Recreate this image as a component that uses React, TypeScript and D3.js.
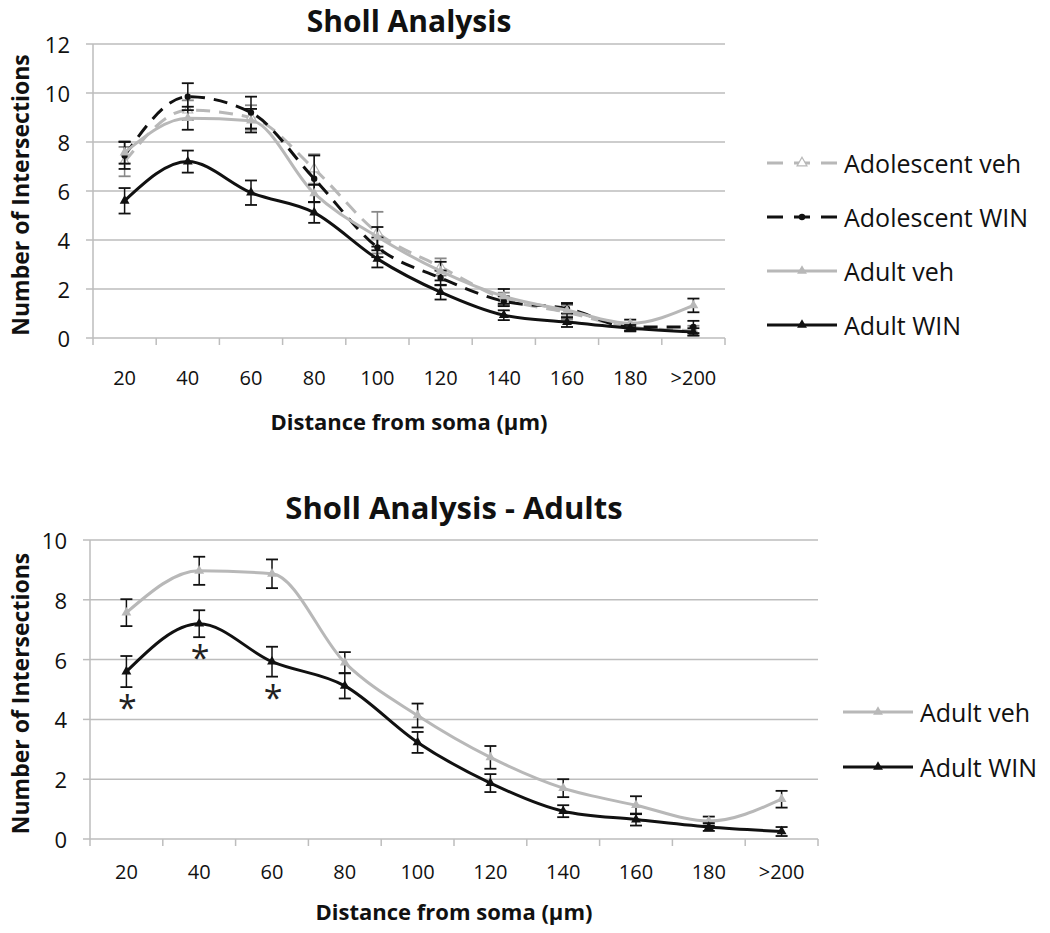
import React from "react";
import * as d3 from "d3";

const categories = ["20", "40", "60", "80", "100", "120", "140", "160", "180", ">200"];

const adolVeh = [7.2, 9.3, 9.0, 6.9, 4.3, 2.9, 1.6, 1.05, 0.45, 0.3];
const adolVehErr = [0.6, 0.4, 0.5, 0.6, 0.85, 0.35, 0.25, 0.3, 0.15, 0.2];
const adolWin = [7.45, 9.85, 9.2, 6.5, 3.7, 2.45, 1.5, 1.2, 0.45, 0.45];
const adolWinErr = [0.55, 0.55, 0.65, 0.95, 0.4, 0.3, 0.2, 0.2, 0.15, 0.25];
const adultVeh = [7.57, 8.97, 8.87, 5.9, 4.13, 2.73, 1.7, 1.13, 0.6, 1.33];
const adultVehErr = [0.45, 0.47, 0.48, 0.35, 0.4, 0.38, 0.3, 0.3, 0.15, 0.28];
const adultWin = [5.6, 7.2, 5.93, 5.12, 3.23, 1.87, 0.93, 0.65, 0.4, 0.25];
const adultWinErr = [0.52, 0.45, 0.5, 0.42, 0.35, 0.3, 0.2, 0.2, 0.13, 0.15];

const topTicks = [0, 2, 4, 6, 8, 10, 12];
const bottomTicks = [0, 2, 4, 6, 8, 10];
const significant = ["20", "40", "60"];

const GRAY = "#b8b8b8";
const GRID = "#bdbdbd";
const FONT = "'Open Sans', Lato, sans-serif";

type Series = {
  name: string;
  values: number[];
  errs: number[];
  color: string;
  dash?: string;
  marker: "tri" | "triOpen" | "circle";
};

const topSeries: Series[] = [
  { name: "Adolescent veh", values: adolVeh, errs: adolVehErr, color: GRAY, dash: "14,9", marker: "triOpen" },
  { name: "Adolescent WIN", values: adolWin, errs: adolWinErr, color: "#111", dash: "14,9", marker: "circle" },
  { name: "Adult veh", values: adultVeh, errs: adultVehErr, color: GRAY, marker: "tri" },
  { name: "Adult WIN", values: adultWin, errs: adultWinErr, color: "#111", marker: "tri" },
];
const bottomSeries: Series[] = [
  { name: "Adult veh", values: adultVeh, errs: adultVehErr, color: GRAY, marker: "tri" },
  { name: "Adult WIN", values: adultWin, errs: adultWinErr, color: "#111", marker: "tri" },
];

function Marker({ s, x, y }: { s: Series; x: number; y: number }) {
  if (s.marker === "circle") {
    const p = d3.symbol().type(d3.symbolCircle).size(32)();
    return <path d={p || ""} transform={`translate(${x},${y})`} fill={s.color} />;
  }
  const p = d3.symbol().type(d3.symbolTriangle).size(42)();
  if (s.marker === "triOpen") {
    return <path d={p || ""} transform={`translate(${x},${y})`} fill="#fff" stroke={s.color} strokeWidth={1.2} />;
  }
  return <path d={p || ""} transform={`translate(${x},${y})`} fill={s.color} />;
}

function Chart(props: {
  title: string;
  titleBase: number;
  titleSize: number;
  left: number;
  right: number;
  top: number;
  bottom: number;
  ymax: number;
  ticks: number[];
  series: Series[];
  xLabelY: number;
  xTitleY: number;
  yTitleX: number;
  legendX: number;
  legendY: number[];
  stars?: boolean;
}) {
  const { left, right, top, bottom } = props;
  const x = d3.scaleBand().domain(categories).range([left, right]);
  const bw = x.bandwidth();
  const cx = (c: string) => (x(c) as number) + bw / 2;
  const y = d3.scaleLinear().domain([0, props.ymax]).range([bottom, top]);
  const line = d3
    .line<number>()
    .x((_, i) => cx(categories[i]))
    .y((d) => y(d))
    .curve(d3.curveMonotoneX);
  const midX = (left + right) / 2;
  const midY = (top + bottom) / 2;
  return (
    <g>
      <text x={midX} y={props.titleBase} textAnchor="middle" fontFamily={FONT} fontWeight="bold" fontSize={props.titleSize} fill="#111">
        {props.title}
      </text>
      {props.ticks.map((t) => (
        <g key={t}>
          {t > 0 && <line x1={left} x2={right} y1={y(t)} y2={y(t)} stroke={GRID} strokeWidth={1.5} />}
          <line x1={left - 7} x2={left} y1={y(t)} y2={y(t)} stroke={GRID} strokeWidth={1.5} />
          <text x={left - 23} y={y(t)} textAnchor="end" dominantBaseline="central" fontFamily={FONT} fontSize={22} fill="#111">
            {t}
          </text>
        </g>
      ))}
      <line x1={left} x2={left} y1={top} y2={bottom} stroke={GRID} strokeWidth={1.5} />
      <line x1={left} x2={right} y1={bottom} y2={bottom} stroke={GRID} strokeWidth={1.5} />
      {d3.range(categories.length + 1).map((i) => (
        <line key={i} x1={left + i * bw} x2={left + i * bw} y1={bottom} y2={bottom + 7} stroke={GRID} strokeWidth={1.5} />
      ))}
      {categories.map((c) => (
        <text key={c} x={cx(c)} y={props.xLabelY} textAnchor="middle" dominantBaseline="central" fontFamily={FONT} fontSize={20} fill="#111">
          {c}
        </text>
      ))}
      <text x={midX} y={props.xTitleY} textAnchor="middle" dominantBaseline="central" fontFamily={FONT} fontWeight="bold" fontSize={22} fill="#111">
        Distance from soma (µm)
      </text>
      <text
        transform={`translate(${props.yTitleX},${midY + 4}) rotate(-90)`}
        textAnchor="middle"
        dominantBaseline="central"
        fontFamily={FONT}
        fontWeight="bold"
        fontSize={23}
        fill="#111"
      >
        Number of Intersections
      </text>
      {props.series.map((s) => (
        <g key={s.name}>
          <path d={line(s.values) || ""} fill="none" stroke={s.color} strokeWidth={3} strokeDasharray={s.dash} />
          {s.values.map((v, i) => {
            const px = cx(categories[i]);
            const y1 = y(v + s.errs[i]);
            const y2 = y(v - s.errs[i]);
            const ec = s.marker === "triOpen" ? "#888" : "#111";
            return (
              <g key={i}>
                <line x1={px} x2={px} y1={y1} y2={y2} stroke={ec} strokeWidth={1.5} />
                <line x1={px - 6} x2={px + 6} y1={y1} y2={y1} stroke={ec} strokeWidth={1.8} />
                <line x1={px - 6} x2={px + 6} y1={y2} y2={y2} stroke={ec} strokeWidth={1.8} />
                <Marker s={s} x={px} y={y(v)} />
              </g>
            );
          })}
        </g>
      ))}
      {props.stars &&
        significant.map((c) => {
          const i = categories.indexOf(c);
          return (
            <text key={c} x={cx(c) + 1} y={y(adultWin[i] - adultWinErr[i]) + 33} textAnchor="middle" fontFamily={FONT} fontSize={34} fill="#222">
              *
            </text>
          );
        })}
      {props.series.map((s, k) => {
        const ly = props.legendY[k];
        const lx = props.legendX;
        return (
          <g key={s.name}>
            <line x1={lx} x2={lx + 70} y1={ly} y2={ly} stroke={s.color} strokeWidth={3} strokeDasharray={s.dash ? "16,11" : undefined} />
            <Marker s={s} x={lx + 35} y={ly} />
            <text x={lx + 77} y={ly} dominantBaseline="central" fontFamily={FONT} fontSize={25} fill="#111">
              {s.name}
            </text>
          </g>
        );
      })}
    </g>
  );
}

export default function App() {
  return (
    <div style={{ position: "fixed", left: 0, top: 0, width: 1050, height: 933, overflow: "hidden", background: "#fff" }}>
      <svg width={1050} height={933} style={{ display: "block" }}>
        <rect width={1050} height={933} fill="#fff" />
        <Chart
          title="Sholl Analysis"
          titleBase={32}
          titleSize={30}
          left={93}
          right={725}
          top={44}
          bottom={338}
          ymax={12}
          ticks={topTicks}
          series={topSeries}
          xLabelY={377}
          xTitleY={421}
          yTitleX={20}
          legendX={767}
          legendY={[163, 217, 271, 325]}
        />
        <Chart
          title="Sholl Analysis - Adults"
          titleBase={519}
          titleSize={31}
          left={90}
          right={818}
          top={540}
          bottom={839}
          ymax={10}
          ticks={bottomTicks}
          series={bottomSeries}
          xLabelY={871}
          xTitleY={911}
          yTitleX={20}
          legendX={843}
          legendY={[712, 767]}
          stars
        />
      </svg>
    </div>
  );
}
